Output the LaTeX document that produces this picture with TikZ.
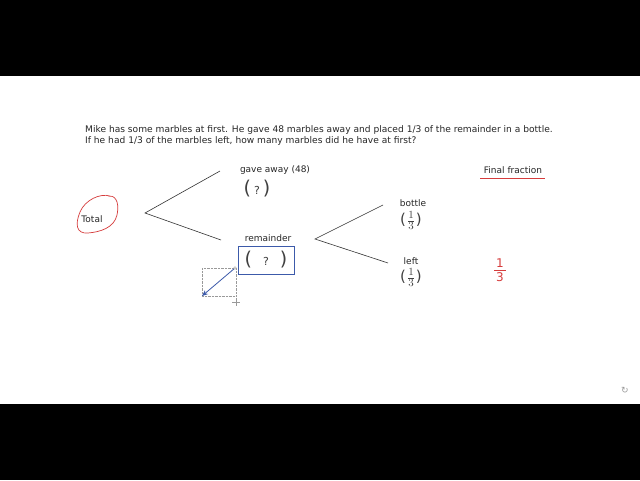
\documentclass[tikz,border=0pt]{standalone}
\usepackage{fontspec}
\setmainfont{DejaVu Sans}
\usetikzlibrary{arrows.meta}
\definecolor{penred}{RGB}{214,60,60}
\definecolor{boxblue}{RGB}{60,90,170}
\begin{document}
\begin{tikzpicture}[x=1pt,y=-1pt,
  lbl/.style={font=\fontsize{9}{10}\selectfont, text=black!85, inner sep=0pt},
  branch/.style={draw=black!80, line width=0.6pt},
  paren/.style={font=\fontsize{19}{19}\selectfont, text=black!75, inner sep=0pt}]
\useasboundingbox (0,0) rectangle (640,480);
\fill[white] (0,0) rectangle (640,480);
\fill[black] (0,0) rectangle (640,76);
\fill[black] (0,404) rectangle (640,480);
% question
\node[anchor=west, align=left, font=\fontsize{9.1}{11}\selectfont, text=black!85, inner sep=0pt] (q) at (85,135.5)
 {Mike has some marbles at first. He gave 48 marbles away and placed 1/3 of the remainder in a bottle.\\
  If he had 1/3 of the marbles left, how many marbles did he have at first?};
% total
\node[lbl] (total) at (92,219) {Total};
\draw[penred, line width=0.7pt] (110,196) .. controls (100,193) and (85,200) .. (80,212)
  .. controls (75,224) and (76,234) .. (88,233)
  .. controls (100,232) and (114,228) .. (117,215)
  .. controls (120,200) and (114,195) .. (108,196);
\coordinate (t1) at (145,213);
\coordinate (gA) at (220,171);
\coordinate (rA) at (221,240);
\draw[branch] (gA) -- (t1) -- (rA);
% gave away
\node[lbl] (gave) at (275,170) {gave away (48)};
\node[paren] (gp) at (257,189) {(\hspace{3pt}{\fontsize{11}{11}\selectfont ?}\hspace{3pt})};
% remainder
\node[lbl] (rem) at (268,238) {remainder};
\node[draw=boxblue, line width=0.7pt, minimum width=56pt, minimum height=28pt, inner sep=0pt] (rbox) at (266,260) {};
\node[paren] (rp) at (rbox.center) {(\hspace{11pt}{\fontsize{11}{11}\selectfont ?}\hspace{11pt})};
% arrow with selection box
\draw[black!40, densely dotted, line width=0.4pt] (202,268) rectangle (236,296);
\coordinate (as) at (235,268);
\coordinate (ae) at (202,296);
\draw[boxblue, line width=0.8pt, -{Stealth[length=6pt,width=5pt]}] (as) -- (ae);
\draw[black!40, line width=0.4pt, fill=white] (as) circle (1.3);
\draw[black!40, line width=0.4pt] (236,298) -- (236,306) (232,302) -- (240,302);
% right branches
\coordinate (t2) at (315,239);
\coordinate (bA) at (383,205);
\coordinate (lA) at (388,263);
\draw[branch] (bA) -- (t2) -- (lA);
\node[lbl] (bot) at (413,203) {bottle};
\node[paren, font=\fontsize{15}{15}\selectfont] (bf) at (411,220.5) {(\hspace{1pt}${\fontsize{7}{7}\selectfont\frac{1}{3}}$\hspace{1pt})};
\node[lbl] (left) at (411,261) {left};
\node[paren, font=\fontsize{15}{15}\selectfont] (lf) at (411,277.5) {(\hspace{1pt}${\fontsize{7}{7}\selectfont\frac{1}{3}}$\hspace{1pt})};
% final fraction
\node[lbl] (ff) at (513,170) {Final fraction};
\draw[penred, line width=0.7pt] (480,178) -- (545,178);
\node[text=penred, font=\fontsize{12}{12}\selectfont, inner sep=0pt] (one) at (500,263) {1};
\draw[penred, line width=0.7pt] (494,270) -- (506,270);
\node[text=penred, font=\fontsize{12}{12}\selectfont, inner sep=0pt] (three) at (500,277) {3};
% corner icon
\node[text=black!40, font=\fontsize{9}{9}\selectfont, inner sep=0pt] (ic) at (625,390) {↻};
\end{tikzpicture}
\end{document}
